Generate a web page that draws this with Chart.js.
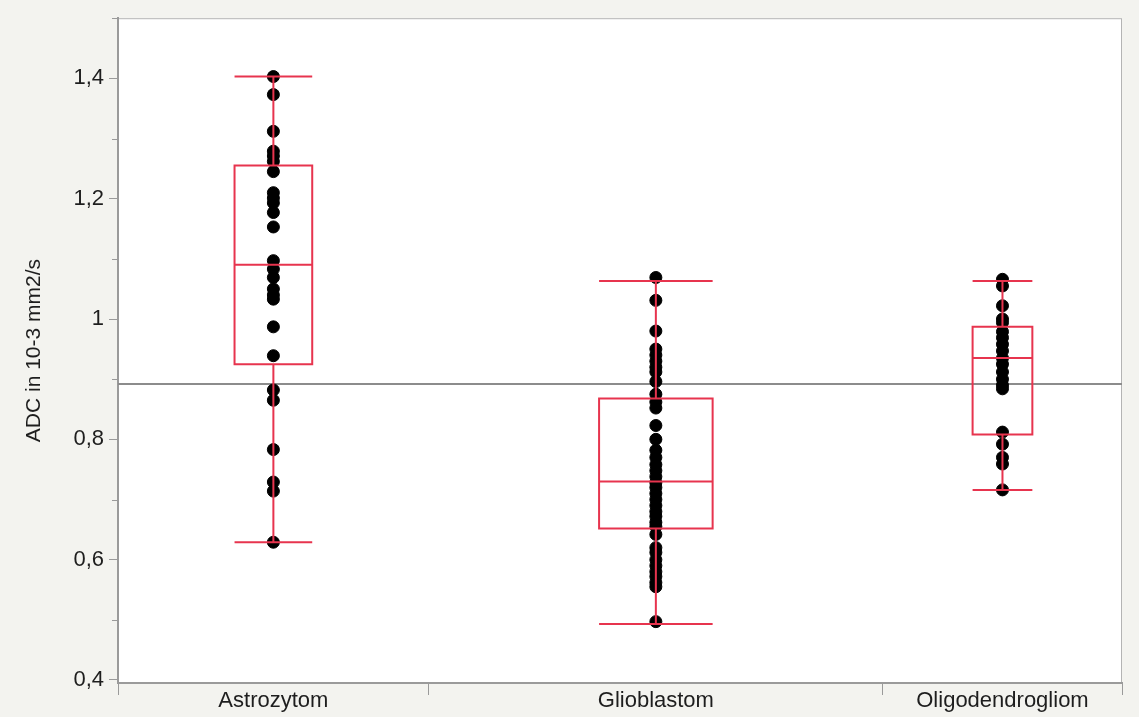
<!DOCTYPE html>
<html>
<head>
<meta charset="utf-8">
<script src="https://cdn.jsdelivr.net/npm/chart.js@4/dist/chart.umd.min.js"></script>
<style>
  html, body { margin: 0; padding: 0; background: #f3f3ef; }
  #wrap { width: 1139px; height: 717px; }
</style>
</head>
<body>
<div id="wrap"><canvas id="chart" width="1139" height="717"></canvas></div>
<script>
// categories and raw ADC values per group
const categories = ['Astrozytom', 'Glioblastom', 'Oligodendrogliom'];
const astroValues = [1.403, 1.373, 1.312, 1.279, 1.271, 1.262, 1.245, 1.210, 1.201, 1.193, 1.177, 1.153, 1.097,
  1.083, 1.069, 1.050, 1.040, 1.033, 0.987, 0.939, 0.882, 0.865, 0.783, 0.729, 0.714, 0.629];
const glioValues = [1.069, 1.031, 0.980, 0.950, 0.940, 0.930, 0.920, 0.912, 0.896, 0.875, 0.862, 0.852, 0.823,
  0.800, 0.782, 0.770, 0.758, 0.748, 0.738, 0.728, 0.720, 0.710, 0.700, 0.690, 0.680, 0.672, 0.662, 0.655,
  0.642, 0.620, 0.612, 0.600, 0.590, 0.580, 0.572, 0.562, 0.555, 0.497];
const oligoValues = [1.066, 1.055, 1.022, 1.000, 0.994, 0.979, 0.969, 0.958, 0.947, 0.935, 0.925, 0.912, 0.900,
  0.890, 0.884, 0.812, 0.792, 0.770, 0.759, 0.716];

// box plot stats
const boxMin = [0.629, 0.493, 0.716];
const boxQ1 = [0.925, 0.652, 0.808];
const boxMedian = [1.090, 0.730, 0.935];
const boxQ3 = [1.255, 0.868, 0.987];
const boxMax = [1.403, 1.063, 1.063];
const grandMean = 0.892;

const yTicks = [0.4, 0.6, 0.8, 1.0, 1.2, 1.4];
const yMinorTicks = [0.5, 0.7, 0.9, 1.1, 1.3, 1.5];

// group widths are proportional to group size (like JMP)
const groups = [astroValues, glioValues, oligoValues];
const counts = groups.map(g => g.length);
const bounds = [0];
counts.forEach(n => bounds.push(bounds[bounds.length - 1] + n));
const centers = counts.map((n, i) => bounds[i] + n / 2);
const total = bounds[bounds.length - 1];

const points = [];
groups.forEach((g, i) => g.forEach(v => points.push({ x: centers[i], y: v })));

const RED = 'rgb(231, 52, 78)';
const FONT = '"Liberation Sans", Arial, Helvetica, sans-serif';

const decorPlugin = {
  id: 'decor',
  beforeDraw(chart) {
    const { ctx, chartArea: a } = chart;
    ctx.save();
    ctx.fillStyle = '#ffffff';
    ctx.fillRect(a.left, a.top, a.right - a.left, a.bottom - a.top);
    ctx.strokeStyle = '#b4b4b4';
    ctx.lineWidth = 1;
    ctx.strokeRect(a.left + 0.5, a.top + 0.5, a.right - a.left - 1, a.bottom - a.top);
    ctx.restore();
  },
  beforeDatasetsDraw(chart) {
    const { ctx, chartArea: a, scales } = chart;
    const y = scales.y.getPixelForValue(grandMean);
    ctx.save();
    ctx.strokeStyle = '#8c8c8c';
    ctx.lineWidth = 2;
    ctx.beginPath();
    ctx.moveTo(a.left, y);
    ctx.lineTo(a.right, y);
    ctx.stroke();
    // minor y ticks
    ctx.strokeStyle = '#9a9a9a';
    ctx.lineWidth = 1;
    yMinorTicks.forEach(v => {
      const py = Math.round(scales.y.getPixelForValue(v)) + 0.5;
      ctx.beginPath();
      ctx.moveTo(a.left - 6, py);
      ctx.lineTo(a.left, py);
      ctx.stroke();
    });
    ctx.restore();
  },
  afterDatasetsDraw(chart) {
    const { ctx, scales } = chart;
    const xs = scales.x, ys = scales.y;
    ctx.save();
    ctx.strokeStyle = RED;
    ctx.lineWidth = 2;
    centers.forEach((c, i) => {
      const half = counts[i] * 0.125;
      const x0 = xs.getPixelForValue(c - half);
      const x1 = xs.getPixelForValue(c + half);
      const xc = xs.getPixelForValue(c);
      const yMin = ys.getPixelForValue(boxMin[i]);
      const yQ1 = ys.getPixelForValue(boxQ1[i]);
      const yMed = ys.getPixelForValue(boxMedian[i]);
      const yQ3 = ys.getPixelForValue(boxQ3[i]);
      const yMax = ys.getPixelForValue(boxMax[i]);
      ctx.beginPath();
      ctx.rect(x0, yQ3, x1 - x0, yQ1 - yQ3);
      ctx.moveTo(x0, yMed); ctx.lineTo(x1, yMed);
      ctx.moveTo(xc, yQ3); ctx.lineTo(xc, yMax);
      ctx.moveTo(xc, yQ1); ctx.lineTo(xc, yMin);
      ctx.moveTo(x0, yMax); ctx.lineTo(x1, yMax);
      ctx.moveTo(x0, yMin); ctx.lineTo(x1, yMin);
      ctx.stroke();
    });
    ctx.restore();
  }
};

new Chart(document.getElementById('chart'), {
  type: 'scatter',
  data: {
    datasets: [{
      data: points,
      backgroundColor: '#000000',
      borderColor: '#000000',
      pointRadius: 6,
      pointHoverRadius: 6
    }]
  },
  options: {
    responsive: false,
    animation: false,
    events: [],
    layout: { padding: { top: 16, right: 17, left: 0, bottom: 0 } },
    plugins: { legend: { display: false }, tooltip: { enabled: false } },
    scales: {
      x: {
        type: 'linear',
        min: 0,
        max: total,
        afterFit: s => { s.height = 34; },
        afterBuildTicks: s => {
          const t = bounds.concat(centers).sort((a, b) => a - b);
          s.ticks = t.map(v => ({ value: v }));
        },
        border: { color: '#9a9a9a', width: 2 },
        grid: {
          drawOnChartArea: false,
          tickLength: 12,
          color: c => bounds.includes(c.tick.value) ? '#9a9a9a' : 'rgba(0,0,0,0)'
        },
        ticks: {
          autoSkip: false,
          maxRotation: 0,
          padding: -7,
          color: '#1e1e1e',
          font: { family: FONT, size: 22 },
          callback: v => {
            const i = centers.indexOf(v);
            return i >= 0 ? categories[i] : '';
          }
        }
      },
      y: {
        min: 0.395,
        max: 1.5,
        afterFit: s => { s.width = 118; },
        afterBuildTicks: s => { s.ticks = yTicks.map(v => ({ value: v })); },
        border: { color: '#9a9a9a', width: 2 },
        grid: { drawOnChartArea: false, tickLength: 9, color: '#9a9a9a' },
        ticks: {
          padding: 5,
          color: '#1e1e1e',
          font: { family: FONT, size: 22 },
          callback: v => Math.abs(v - 1) < 1e-9 ? '1' : v.toFixed(1).replace('.', ',')
        },
        title: {
          display: true,
          text: 'ADC in 10-3 mm2/s',
          color: '#1e1e1e',
          font: { family: FONT, size: 21 },
          padding: { top: 22, bottom: 0 }
        }
      }
    }
  },
  plugins: [decorPlugin]
});
</script>
</body>
</html>
